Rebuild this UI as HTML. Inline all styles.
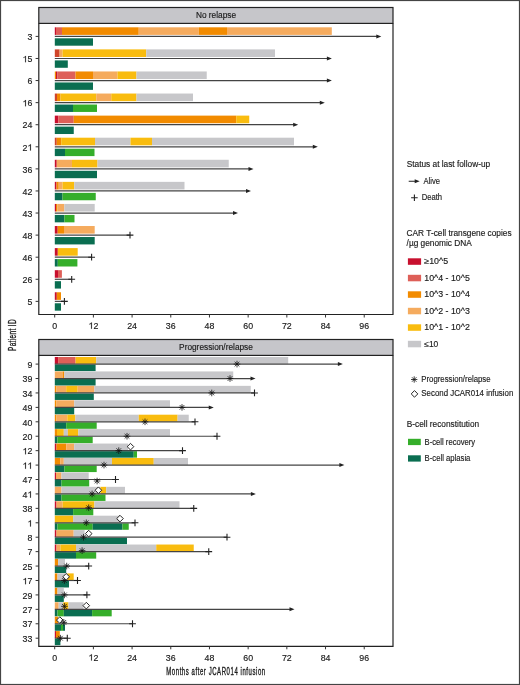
<!DOCTYPE html>
<html><head><meta charset="utf-8"><style>
html,body{margin:0;padding:0;background:#fff;}
svg{display:block;will-change:transform;}
text{font-family:"Liberation Sans",sans-serif;fill:#1a1a1a;stroke:#1a1a1a;stroke-width:0.15px;}
.t{font-size:8.8px;}
.h{font-size:8.3px;}
.lt{font-size:8.3px;}
.li{font-size:8.5px;}
.ax{font-size:10px;}
</style></head><body>
<svg width="520" height="685" viewBox="0 0 520 685">
<rect x="0.5" y="0.5" width="519" height="684" fill="#fff" stroke="#444" stroke-width="1.2"/>
<rect x="38.8" y="7.5" width="354.2" height="15.9" fill="#c6c6ca" stroke="#222" stroke-width="1.2"/>
<text x="216" y="18.1" text-anchor="middle" class="h">No relapse</text>
<path d="M38.8,23.4V314.5H393V23.4" stroke="#222" stroke-width="1.2" fill="none"/>
<line x1="54.7" y1="314.5" x2="54.7" y2="317.5" stroke="#333" stroke-width="1"/>
<text x="54.7" y="328.7" text-anchor="middle" class="t">0</text>
<line x1="93.39" y1="314.5" x2="93.39" y2="317.5" stroke="#333" stroke-width="1"/>
<path transform="translate(88.5,328.7) scale(8.8)" d="M0.383,0V-0.716H0.318C0.29,-0.655 0.2,-0.585 0.1,-0.55V-0.468C0.17,-0.49 0.25,-0.535 0.293,-0.575V0Z" fill="#1a1a1a" stroke="#1a1a1a" stroke-width="0.0170"/>
<text x="93.39" y="328.7" class="t">2</text>
<line x1="132.08" y1="314.5" x2="132.08" y2="317.5" stroke="#333" stroke-width="1"/>
<text x="132.08" y="328.7" text-anchor="middle" class="t">24</text>
<line x1="170.77" y1="314.5" x2="170.77" y2="317.5" stroke="#333" stroke-width="1"/>
<text x="170.77" y="328.7" text-anchor="middle" class="t">36</text>
<line x1="209.46" y1="314.5" x2="209.46" y2="317.5" stroke="#333" stroke-width="1"/>
<text x="209.46" y="328.7" text-anchor="middle" class="t">48</text>
<line x1="248.15" y1="314.5" x2="248.15" y2="317.5" stroke="#333" stroke-width="1"/>
<text x="248.15" y="328.7" text-anchor="middle" class="t">60</text>
<line x1="286.84" y1="314.5" x2="286.84" y2="317.5" stroke="#333" stroke-width="1"/>
<text x="286.84" y="328.7" text-anchor="middle" class="t">72</text>
<line x1="325.53" y1="314.5" x2="325.53" y2="317.5" stroke="#333" stroke-width="1"/>
<text x="325.53" y="328.7" text-anchor="middle" class="t">84</text>
<line x1="364.22" y1="314.5" x2="364.22" y2="317.5" stroke="#333" stroke-width="1"/>
<text x="364.22" y="328.7" text-anchor="middle" class="t">96</text>
<rect x="54.8" y="27.3" width="1.2" height="7.6" fill="#c8102e"/>
<rect x="56" y="27.3" width="6" height="7.6" fill="#de5f58"/>
<rect x="62" y="27.3" width="76.75" height="7.6" fill="#f28b00"/>
<rect x="138.75" y="27.3" width="60" height="7.6" fill="#f5ab5e"/>
<rect x="198.75" y="27.3" width="28.25" height="7.6" fill="#f28b00"/>
<rect x="227" y="27.3" width="104.8" height="7.6" fill="#f5ab5e"/>
<rect x="54.8" y="38.3" width="38.2" height="7.4" fill="#0a6e51"/>
<line x1="54.8" y1="36.4" x2="377.3" y2="36.4" stroke="#444444" stroke-width="1.2"/>
<path d="M381.3,36.4 L376.3,34.4 L376.3,38.4 Z" fill="#222"/>
<line x1="35.6" y1="36.4" x2="38.8" y2="36.4" stroke="#333" stroke-width="1"/>
<text x="32.4" y="40.1" text-anchor="end" class="t">3</text>
<rect x="54.8" y="49.38" width="4.8" height="7.6" fill="#d0452a"/>
<rect x="59.6" y="49.38" width="2.9" height="7.6" fill="#f5ab5e"/>
<rect x="62.5" y="49.38" width="83.75" height="7.6" fill="#f9bc0f"/>
<rect x="146.25" y="49.38" width="128.75" height="7.6" fill="#c7c7ca"/>
<rect x="54.8" y="60.38" width="13" height="7.4" fill="#0a6e51"/>
<line x1="54.8" y1="58.48" x2="327.9" y2="58.48" stroke="#444444" stroke-width="1.2"/>
<path d="M331.9,58.48 L326.9,56.48 L326.9,60.48 Z" fill="#222"/>
<line x1="35.6" y1="58.48" x2="38.8" y2="58.48" stroke="#333" stroke-width="1"/>
<path transform="translate(22.61,62.18) scale(8.8)" d="M0.383,0V-0.716H0.318C0.29,-0.655 0.2,-0.585 0.1,-0.55V-0.468C0.17,-0.49 0.25,-0.535 0.293,-0.575V0Z" fill="#1a1a1a" stroke="#1a1a1a" stroke-width="0.0170"/>
<text x="27.51" y="62.18" class="t">5</text>
<rect x="54.8" y="71.46" width="1.2" height="7.6" fill="#f28b00"/>
<rect x="56" y="71.46" width="1.2" height="7.6" fill="#c8102e"/>
<rect x="57.2" y="71.46" width="18.3" height="7.6" fill="#de5f58"/>
<rect x="75.5" y="71.46" width="17.5" height="7.6" fill="#f28b00"/>
<rect x="93" y="71.46" width="24.5" height="7.6" fill="#f5ab5e"/>
<rect x="117.5" y="71.46" width="19" height="7.6" fill="#f9bc0f"/>
<rect x="136.5" y="71.46" width="70.25" height="7.6" fill="#c7c7ca"/>
<rect x="54.8" y="82.46" width="38.2" height="7.4" fill="#0a6e51"/>
<line x1="54.8" y1="80.56" x2="327.9" y2="80.56" stroke="#444444" stroke-width="1.2"/>
<path d="M331.9,80.56 L326.9,78.56 L326.9,82.56 Z" fill="#222"/>
<line x1="35.6" y1="80.56" x2="38.8" y2="80.56" stroke="#333" stroke-width="1"/>
<text x="32.4" y="84.26" text-anchor="end" class="t">6</text>
<rect x="54.8" y="93.54" width="2.2" height="7.6" fill="#d0452a"/>
<rect x="57" y="93.54" width="3.5" height="7.6" fill="#f28b00"/>
<rect x="60.5" y="93.54" width="35.75" height="7.6" fill="#f9bc0f"/>
<rect x="96.25" y="93.54" width="15" height="7.6" fill="#f5ab5e"/>
<rect x="111.25" y="93.54" width="25.25" height="7.6" fill="#f9bc0f"/>
<rect x="136.5" y="93.54" width="56.5" height="7.6" fill="#c7c7ca"/>
<rect x="54.8" y="104.54" width="18.2" height="7.4" fill="#0a6e51"/>
<rect x="73" y="104.54" width="24" height="7.4" fill="#35ae2a"/>
<line x1="54.8" y1="102.64" x2="320.8" y2="102.64" stroke="#444444" stroke-width="1.2"/>
<path d="M324.8,102.64 L319.8,100.64 L319.8,104.64 Z" fill="#222"/>
<line x1="35.6" y1="102.64" x2="38.8" y2="102.64" stroke="#333" stroke-width="1"/>
<path transform="translate(22.61,106.34) scale(8.8)" d="M0.383,0V-0.716H0.318C0.29,-0.655 0.2,-0.585 0.1,-0.55V-0.468C0.17,-0.49 0.25,-0.535 0.293,-0.575V0Z" fill="#1a1a1a" stroke="#1a1a1a" stroke-width="0.0170"/>
<text x="27.51" y="106.34" class="t">6</text>
<rect x="54.8" y="115.62" width="3.45" height="7.6" fill="#c8102e"/>
<rect x="58.25" y="115.62" width="15.5" height="7.6" fill="#de5f58"/>
<rect x="73.75" y="115.62" width="162.5" height="7.6" fill="#f28b00"/>
<rect x="236.25" y="115.62" width="13" height="7.6" fill="#f9bc0f"/>
<rect x="54.8" y="126.62" width="18.95" height="7.4" fill="#0a6e51"/>
<line x1="54.8" y1="124.72" x2="294.2" y2="124.72" stroke="#444444" stroke-width="1.2"/>
<path d="M298.2,124.72 L293.2,122.72 L293.2,126.72 Z" fill="#222"/>
<line x1="35.6" y1="124.72" x2="38.8" y2="124.72" stroke="#333" stroke-width="1"/>
<text x="32.4" y="128.42" text-anchor="end" class="t">24</text>
<rect x="54.8" y="137.7" width="1.95" height="7.6" fill="#d0452a"/>
<rect x="56.75" y="137.7" width="4.5" height="7.6" fill="#f28b00"/>
<rect x="61.25" y="137.7" width="33.75" height="7.6" fill="#f9bc0f"/>
<rect x="95" y="137.7" width="35.5" height="7.6" fill="#c7c7ca"/>
<rect x="130.5" y="137.7" width="21.5" height="7.6" fill="#f9bc0f"/>
<rect x="152" y="137.7" width="142" height="7.6" fill="#c7c7ca"/>
<rect x="54.8" y="148.7" width="10.2" height="7.4" fill="#0a6e51"/>
<rect x="65" y="148.7" width="29.5" height="7.4" fill="#35ae2a"/>
<line x1="54.8" y1="146.8" x2="313.8" y2="146.8" stroke="#444444" stroke-width="1.2"/>
<path d="M317.8,146.8 L312.8,144.8 L312.8,148.8 Z" fill="#222"/>
<line x1="35.6" y1="146.8" x2="38.8" y2="146.8" stroke="#333" stroke-width="1"/>
<text x="22.61" y="150.5" class="t">2</text>
<path transform="translate(27.51,150.5) scale(8.8)" d="M0.383,0V-0.716H0.318C0.29,-0.655 0.2,-0.585 0.1,-0.55V-0.468C0.17,-0.49 0.25,-0.535 0.293,-0.575V0Z" fill="#1a1a1a" stroke="#1a1a1a" stroke-width="0.0170"/>
<rect x="54.8" y="159.78" width="1.95" height="7.6" fill="#c8102e"/>
<rect x="56.75" y="159.78" width="15.25" height="7.6" fill="#f5ab5e"/>
<rect x="72" y="159.78" width="25.5" height="7.6" fill="#f9bc0f"/>
<rect x="97.5" y="159.78" width="131.25" height="7.6" fill="#c7c7ca"/>
<rect x="54.8" y="170.78" width="42.2" height="7.4" fill="#0a6e51"/>
<line x1="54.8" y1="168.88" x2="249.5" y2="168.88" stroke="#444444" stroke-width="1.2"/>
<path d="M253.5,168.88 L248.5,166.88 L248.5,170.88 Z" fill="#222"/>
<line x1="35.6" y1="168.88" x2="38.8" y2="168.88" stroke="#333" stroke-width="1"/>
<text x="32.4" y="172.58" text-anchor="end" class="t">36</text>
<rect x="54.8" y="181.86" width="1.7" height="7.6" fill="#c8102e"/>
<rect x="56.5" y="181.86" width="2.25" height="7.6" fill="#f28b00"/>
<rect x="58.75" y="181.86" width="3.75" height="7.6" fill="#f5ab5e"/>
<rect x="62.5" y="181.86" width="11.75" height="7.6" fill="#f9bc0f"/>
<rect x="74.25" y="181.86" width="110.25" height="7.6" fill="#c7c7ca"/>
<rect x="54.8" y="192.86" width="7.7" height="7.4" fill="#0a6e51"/>
<rect x="62.5" y="192.86" width="33.25" height="7.4" fill="#35ae2a"/>
<line x1="54.8" y1="190.96" x2="247" y2="190.96" stroke="#444444" stroke-width="1.2"/>
<path d="M251,190.96 L246,188.96 L246,192.96 Z" fill="#222"/>
<line x1="35.6" y1="190.96" x2="38.8" y2="190.96" stroke="#333" stroke-width="1"/>
<text x="32.4" y="194.66" text-anchor="end" class="t">42</text>
<rect x="54.8" y="203.94" width="1.2" height="7.6" fill="#c8102e"/>
<rect x="56" y="203.94" width="1.2" height="7.6" fill="#f28b00"/>
<rect x="57.2" y="203.94" width="7.2" height="7.6" fill="#f5ab5e"/>
<rect x="64.4" y="203.94" width="30.3" height="7.6" fill="#c7c7ca"/>
<rect x="54.8" y="214.94" width="9.6" height="7.4" fill="#0a6e51"/>
<rect x="64.4" y="214.94" width="10.1" height="7.4" fill="#35ae2a"/>
<line x1="54.8" y1="213.04" x2="234" y2="213.04" stroke="#444444" stroke-width="1.2"/>
<path d="M238,213.04 L233,211.04 L233,215.04 Z" fill="#222"/>
<line x1="35.6" y1="213.04" x2="38.8" y2="213.04" stroke="#333" stroke-width="1"/>
<text x="32.4" y="216.74" text-anchor="end" class="t">43</text>
<rect x="54.8" y="226.02" width="2.9" height="7.6" fill="#c8102e"/>
<rect x="57.7" y="226.02" width="6.3" height="7.6" fill="#f28b00"/>
<rect x="64" y="226.02" width="30.7" height="7.6" fill="#f5ab5e"/>
<rect x="54.8" y="237.02" width="39.9" height="7.4" fill="#0a6e51"/>
<line x1="54.8" y1="235.12" x2="130" y2="235.12" stroke="#444444" stroke-width="1.2"/>
<path d="M126.6,235.12H133.4M130,231.72V238.52" stroke="#222" stroke-width="1.1" fill="none"/>
<line x1="35.6" y1="235.12" x2="38.8" y2="235.12" stroke="#333" stroke-width="1"/>
<text x="32.4" y="238.82" text-anchor="end" class="t">48</text>
<rect x="54.8" y="248.1" width="3" height="7.6" fill="#c8102e"/>
<rect x="57.8" y="248.1" width="19.9" height="7.6" fill="#f9bc0f"/>
<rect x="54.8" y="259.1" width="3" height="7.4" fill="#0a6e51"/>
<rect x="57.8" y="259.1" width="19.6" height="7.4" fill="#35ae2a"/>
<line x1="54.8" y1="257.2" x2="91.6" y2="257.2" stroke="#444444" stroke-width="1.2"/>
<path d="M88.2,257.2H95M91.6,253.8V260.6" stroke="#222" stroke-width="1.1" fill="none"/>
<line x1="35.6" y1="257.2" x2="38.8" y2="257.2" stroke="#333" stroke-width="1"/>
<text x="32.4" y="260.9" text-anchor="end" class="t">46</text>
<rect x="54.8" y="270.18" width="3.2" height="7.6" fill="#c8102e"/>
<rect x="58" y="270.18" width="3.9" height="7.6" fill="#de5f58"/>
<rect x="54.8" y="281.18" width="6.2" height="7.4" fill="#0a6e51"/>
<line x1="54.8" y1="279.28" x2="71.7" y2="279.28" stroke="#444444" stroke-width="1.2"/>
<path d="M68.3,279.28H75.1M71.7,275.88V282.68" stroke="#222" stroke-width="1.1" fill="none"/>
<line x1="35.6" y1="279.28" x2="38.8" y2="279.28" stroke="#333" stroke-width="1"/>
<text x="32.4" y="282.98" text-anchor="end" class="t">26</text>
<rect x="54.8" y="292.26" width="2" height="7.6" fill="#c8102e"/>
<rect x="56.8" y="292.26" width="4.2" height="7.6" fill="#f28b00"/>
<rect x="54.8" y="303.26" width="6.2" height="7.4" fill="#0a6e51"/>
<line x1="54.8" y1="301.36" x2="64.4" y2="301.36" stroke="#444444" stroke-width="1.2"/>
<path d="M61,301.36H67.8M64.4,297.96V304.76" stroke="#222" stroke-width="1.1" fill="none"/>
<line x1="35.6" y1="301.36" x2="38.8" y2="301.36" stroke="#333" stroke-width="1"/>
<text x="32.4" y="305.06" text-anchor="end" class="t">5</text>
<rect x="38.8" y="339.5" width="354.2" height="15.9" fill="#c6c6ca" stroke="#222" stroke-width="1.2"/>
<text x="216" y="350.1" text-anchor="middle" class="h">Progression/relapse</text>
<path d="M38.8,355.4V646.3H393V355.4" stroke="#222" stroke-width="1.2" fill="none"/>
<line x1="54.7" y1="646.3" x2="54.7" y2="649.3" stroke="#333" stroke-width="1"/>
<text x="54.7" y="660.5" text-anchor="middle" class="t">0</text>
<line x1="93.39" y1="646.3" x2="93.39" y2="649.3" stroke="#333" stroke-width="1"/>
<path transform="translate(88.5,660.5) scale(8.8)" d="M0.383,0V-0.716H0.318C0.29,-0.655 0.2,-0.585 0.1,-0.55V-0.468C0.17,-0.49 0.25,-0.535 0.293,-0.575V0Z" fill="#1a1a1a" stroke="#1a1a1a" stroke-width="0.0170"/>
<text x="93.39" y="660.5" class="t">2</text>
<line x1="132.08" y1="646.3" x2="132.08" y2="649.3" stroke="#333" stroke-width="1"/>
<text x="132.08" y="660.5" text-anchor="middle" class="t">24</text>
<line x1="170.77" y1="646.3" x2="170.77" y2="649.3" stroke="#333" stroke-width="1"/>
<text x="170.77" y="660.5" text-anchor="middle" class="t">36</text>
<line x1="209.46" y1="646.3" x2="209.46" y2="649.3" stroke="#333" stroke-width="1"/>
<text x="209.46" y="660.5" text-anchor="middle" class="t">48</text>
<line x1="248.15" y1="646.3" x2="248.15" y2="649.3" stroke="#333" stroke-width="1"/>
<text x="248.15" y="660.5" text-anchor="middle" class="t">60</text>
<line x1="286.84" y1="646.3" x2="286.84" y2="649.3" stroke="#333" stroke-width="1"/>
<text x="286.84" y="660.5" text-anchor="middle" class="t">72</text>
<line x1="325.53" y1="646.3" x2="325.53" y2="649.3" stroke="#333" stroke-width="1"/>
<text x="325.53" y="660.5" text-anchor="middle" class="t">84</text>
<line x1="364.22" y1="646.3" x2="364.22" y2="649.3" stroke="#333" stroke-width="1"/>
<text x="364.22" y="660.5" text-anchor="middle" class="t">96</text>
<rect x="54.8" y="357" width="3.3" height="6.9" fill="#c8102e"/>
<rect x="58.1" y="357" width="17.5" height="6.9" fill="#de5f58"/>
<rect x="75.6" y="357" width="20.6" height="6.9" fill="#f9bc0f"/>
<rect x="96.2" y="357" width="192" height="6.9" fill="#c7c7ca"/>
<rect x="54.8" y="364.6" width="40.8" height="6.5" fill="#0a6e51"/>
<line x1="54.8" y1="364.1" x2="338.9" y2="364.1" stroke="#444444" stroke-width="1.2"/>
<path d="M342.9,364.1 L337.9,362.1 L337.9,366.1 Z" fill="#222"/>
<path d="M233.7,364.1H240.3M237,360.8V367.4M234.67,361.77L239.33,366.43M234.67,366.43L239.33,361.77" stroke="#111" stroke-width="0.8" fill="none"/>
<line x1="35.6" y1="364.1" x2="38.8" y2="364.1" stroke="#333" stroke-width="1"/>
<text x="32.4" y="367.8" text-anchor="end" class="t">9</text>
<rect x="54.8" y="371.43" width="7.7" height="6.9" fill="#f5ab5e"/>
<rect x="62.5" y="371.43" width="1.8" height="6.9" fill="#f28b00"/>
<rect x="64.3" y="371.43" width="168.95" height="6.9" fill="#c7c7ca"/>
<rect x="54.8" y="379.03" width="40.8" height="6.5" fill="#0a6e51"/>
<line x1="54.8" y1="378.53" x2="251.5" y2="378.53" stroke="#444444" stroke-width="1.2"/>
<path d="M255.5,378.53 L250.5,376.53 L250.5,380.53 Z" fill="#222"/>
<path d="M226.7,378.53H233.3M230,375.23V381.83M227.67,376.19L232.33,380.86M227.67,380.86L232.33,376.19" stroke="#111" stroke-width="0.8" fill="none"/>
<line x1="35.6" y1="378.53" x2="38.8" y2="378.53" stroke="#333" stroke-width="1"/>
<text x="32.4" y="382.23" text-anchor="end" class="t">39</text>
<rect x="54.8" y="385.85" width="1.7" height="6.9" fill="#f28b00"/>
<rect x="56.5" y="385.85" width="9.7" height="6.9" fill="#f5ab5e"/>
<rect x="66.2" y="385.85" width="11.5" height="6.9" fill="#f9bc0f"/>
<rect x="77.7" y="385.85" width="16.7" height="6.9" fill="#f5ab5e"/>
<rect x="94.4" y="385.85" width="156.35" height="6.9" fill="#c7c7ca"/>
<rect x="54.8" y="393.45" width="39" height="6.5" fill="#0a6e51"/>
<line x1="54.8" y1="392.95" x2="254.5" y2="392.95" stroke="#444444" stroke-width="1.2"/>
<path d="M251.1,392.95H257.9M254.5,389.55V396.35" stroke="#222" stroke-width="1.1" fill="none"/>
<path d="M208.45,392.95H215.05M211.75,389.65V396.25M209.42,390.62L214.08,395.29M209.42,395.29L214.08,390.62" stroke="#111" stroke-width="0.8" fill="none"/>
<line x1="35.6" y1="392.95" x2="38.8" y2="392.95" stroke="#333" stroke-width="1"/>
<text x="32.4" y="396.65" text-anchor="end" class="t">34</text>
<rect x="54.8" y="400.28" width="1.7" height="6.9" fill="#f28b00"/>
<rect x="56.5" y="400.28" width="17.7" height="6.9" fill="#f5ab5e"/>
<rect x="74.2" y="400.28" width="95.8" height="6.9" fill="#c7c7ca"/>
<rect x="54.8" y="407.88" width="19.4" height="6.5" fill="#0a6e51"/>
<line x1="54.8" y1="407.38" x2="209.75" y2="407.38" stroke="#444444" stroke-width="1.2"/>
<path d="M213.75,407.38 L208.75,405.38 L208.75,409.38 Z" fill="#222"/>
<path d="M178.7,407.38H185.3M182,404.08V410.68M179.67,405.04L184.33,409.71M179.67,409.71L184.33,405.04" stroke="#111" stroke-width="0.8" fill="none"/>
<line x1="35.6" y1="407.38" x2="38.8" y2="407.38" stroke="#333" stroke-width="1"/>
<text x="32.4" y="411.08" text-anchor="end" class="t">49</text>
<rect x="54.8" y="414.7" width="1.7" height="6.9" fill="#f28b00"/>
<rect x="56.5" y="414.7" width="10.8" height="6.9" fill="#f5ab5e"/>
<rect x="67.3" y="414.7" width="8.1" height="6.9" fill="#f9bc0f"/>
<rect x="75.4" y="414.7" width="63.35" height="6.9" fill="#c7c7ca"/>
<rect x="138.75" y="414.7" width="38.85" height="6.9" fill="#f9bc0f"/>
<rect x="177.6" y="414.7" width="11.15" height="6.9" fill="#c7c7ca"/>
<rect x="54.8" y="422.3" width="11.4" height="6.5" fill="#0a6e51"/>
<rect x="66.2" y="422.3" width="30.5" height="6.5" fill="#35ae2a"/>
<line x1="54.8" y1="421.8" x2="195" y2="421.8" stroke="#444444" stroke-width="1.2"/>
<path d="M191.6,421.8H198.4M195,418.4V425.2" stroke="#222" stroke-width="1.1" fill="none"/>
<path d="M141.7,421.8H148.3M145,418.5V425.1M142.67,419.47L147.33,424.14M142.67,424.14L147.33,419.47" stroke="#111" stroke-width="0.8" fill="none"/>
<line x1="35.6" y1="421.8" x2="38.8" y2="421.8" stroke="#333" stroke-width="1"/>
<text x="32.4" y="425.5" text-anchor="end" class="t">40</text>
<rect x="54.8" y="429.13" width="2.2" height="6.9" fill="#f28b00"/>
<rect x="57" y="429.13" width="6.8" height="6.9" fill="#f9bc0f"/>
<rect x="63.8" y="429.13" width="4.1" height="6.9" fill="#c7c7ca"/>
<rect x="67.9" y="429.13" width="10.4" height="6.9" fill="#f9bc0f"/>
<rect x="78.3" y="429.13" width="91.7" height="6.9" fill="#c7c7ca"/>
<rect x="54.8" y="436.73" width="2.7" height="6.5" fill="#0a6e51"/>
<rect x="57.5" y="436.73" width="35.2" height="6.5" fill="#35ae2a"/>
<line x1="54.8" y1="436.23" x2="217" y2="436.23" stroke="#444444" stroke-width="1.2"/>
<path d="M213.6,436.23H220.4M217,432.83V439.63" stroke="#222" stroke-width="1.1" fill="none"/>
<path d="M123.7,436.23H130.3M127,432.93V439.53M124.67,433.9L129.33,438.56M124.67,438.56L129.33,433.9" stroke="#111" stroke-width="0.8" fill="none"/>
<line x1="35.6" y1="436.23" x2="38.8" y2="436.23" stroke="#333" stroke-width="1"/>
<text x="32.4" y="439.93" text-anchor="end" class="t">20</text>
<rect x="54.8" y="443.56" width="1.7" height="6.9" fill="#c8102e"/>
<rect x="56.5" y="443.56" width="9.7" height="6.9" fill="#f28b00"/>
<rect x="66.2" y="443.56" width="8" height="6.9" fill="#f5ab5e"/>
<rect x="74.2" y="443.56" width="53.8" height="6.9" fill="#c7c7ca"/>
<rect x="54.8" y="451.16" width="78.95" height="6.5" fill="#0a6e51"/>
<rect x="133.75" y="451.16" width="3.25" height="6.5" fill="#35ae2a"/>
<line x1="54.8" y1="450.66" x2="182.5" y2="450.66" stroke="#444444" stroke-width="1.2"/>
<path d="M179.1,450.66H185.9M182.5,447.26V454.06" stroke="#222" stroke-width="1.1" fill="none"/>
<path d="M115.45,450.66H122.05M118.75,447.36V453.96M116.42,448.32L121.08,452.99M116.42,452.99L121.08,448.32" stroke="#111" stroke-width="0.8" fill="none"/>
<path d="M130.5,443.36L133.8,446.66L130.5,449.96L127.2,446.66Z" stroke="#222" stroke-width="1.0" fill="#fff"/>
<line x1="35.6" y1="450.66" x2="38.8" y2="450.66" stroke="#333" stroke-width="1"/>
<path transform="translate(22.61,454.36) scale(8.8)" d="M0.383,0V-0.716H0.318C0.29,-0.655 0.2,-0.585 0.1,-0.55V-0.468C0.17,-0.49 0.25,-0.535 0.293,-0.575V0Z" fill="#1a1a1a" stroke="#1a1a1a" stroke-width="0.0170"/>
<text x="27.51" y="454.36" class="t">2</text>
<rect x="54.8" y="457.98" width="5.6" height="6.9" fill="#f28b00"/>
<rect x="60.4" y="457.98" width="3.4" height="6.9" fill="#f5ab5e"/>
<rect x="63.8" y="457.98" width="48.2" height="6.9" fill="#c7c7ca"/>
<rect x="112" y="457.98" width="41.75" height="6.9" fill="#f9bc0f"/>
<rect x="153.75" y="457.98" width="34.25" height="6.9" fill="#c7c7ca"/>
<rect x="54.8" y="465.58" width="9.6" height="6.5" fill="#0a6e51"/>
<rect x="64.4" y="465.58" width="32.3" height="6.5" fill="#35ae2a"/>
<line x1="54.8" y1="465.08" x2="340.4" y2="465.08" stroke="#444444" stroke-width="1.2"/>
<path d="M344.4,465.08 L339.4,463.08 L339.4,467.08 Z" fill="#222"/>
<path d="M100.7,465.08H107.3M104,461.78V468.38M101.67,462.75L106.33,467.42M101.67,467.42L106.33,462.75" stroke="#111" stroke-width="0.8" fill="none"/>
<line x1="35.6" y1="465.08" x2="38.8" y2="465.08" stroke="#333" stroke-width="1"/>
<path transform="translate(22.61,468.78) scale(8.8)" d="M0.383,0V-0.716H0.318C0.29,-0.655 0.2,-0.585 0.1,-0.55V-0.468C0.17,-0.49 0.25,-0.535 0.293,-0.575V0Z" fill="#1a1a1a" stroke="#1a1a1a" stroke-width="0.0170"/>
<path transform="translate(27.51,468.78) scale(8.8)" d="M0.383,0V-0.716H0.318C0.29,-0.655 0.2,-0.585 0.1,-0.55V-0.468C0.17,-0.49 0.25,-0.535 0.293,-0.575V0Z" fill="#1a1a1a" stroke="#1a1a1a" stroke-width="0.0170"/>
<rect x="54.8" y="472.41" width="1.2" height="6.9" fill="#c8102e"/>
<rect x="56" y="472.41" width="5.5" height="6.9" fill="#f5ab5e"/>
<rect x="61.5" y="472.41" width="27.2" height="6.9" fill="#c7c7ca"/>
<rect x="54.8" y="480.01" width="6.7" height="6.5" fill="#0a6e51"/>
<rect x="61.5" y="480.01" width="27.7" height="6.5" fill="#35ae2a"/>
<line x1="54.8" y1="479.51" x2="115.5" y2="479.51" stroke="#444444" stroke-width="1.2"/>
<path d="M112.1,479.51H118.9M115.5,476.11V482.91" stroke="#222" stroke-width="1.1" fill="none"/>
<path d="M93.8,481.01H100.4M97.1,477.71V484.31M94.77,478.67L99.43,483.34M94.77,483.34L99.43,478.67" stroke="#111" stroke-width="0.8" fill="none"/>
<line x1="35.6" y1="479.51" x2="38.8" y2="479.51" stroke="#333" stroke-width="1"/>
<text x="32.4" y="483.21" text-anchor="end" class="t">47</text>
<rect x="54.8" y="486.83" width="6.7" height="6.9" fill="#f5ab5e"/>
<rect x="61.5" y="486.83" width="39" height="6.9" fill="#c7c7ca"/>
<rect x="100.5" y="486.83" width="5.75" height="6.9" fill="#f9bc0f"/>
<rect x="106.25" y="486.83" width="18.75" height="6.9" fill="#c7c7ca"/>
<rect x="54.8" y="494.43" width="6.7" height="6.5" fill="#0a6e51"/>
<rect x="61.5" y="494.43" width="44" height="6.5" fill="#35ae2a"/>
<line x1="54.8" y1="493.93" x2="251.9" y2="493.93" stroke="#444444" stroke-width="1.2"/>
<path d="M255.9,493.93 L250.9,491.93 L250.9,495.93 Z" fill="#222"/>
<path d="M88.8,493.93H95.4M92.1,490.63V497.23M89.77,491.6L94.43,496.27M89.77,496.27L94.43,491.6" stroke="#111" stroke-width="0.8" fill="none"/>
<path d="M98.4,486.93L101.7,490.23L98.4,493.53L95.1,490.23Z" stroke="#222" stroke-width="1.0" fill="#fff"/>
<line x1="35.6" y1="493.93" x2="38.8" y2="493.93" stroke="#333" stroke-width="1"/>
<text x="22.61" y="497.63" class="t">4</text>
<path transform="translate(27.51,497.63) scale(8.8)" d="M0.383,0V-0.716H0.318C0.29,-0.655 0.2,-0.585 0.1,-0.55V-0.468C0.17,-0.49 0.25,-0.535 0.293,-0.575V0Z" fill="#1a1a1a" stroke="#1a1a1a" stroke-width="0.0170"/>
<rect x="54.8" y="501.26" width="1.7" height="6.9" fill="#c8102e"/>
<rect x="56.5" y="501.26" width="6.2" height="6.9" fill="#f5ab5e"/>
<rect x="62.7" y="501.26" width="31.7" height="6.9" fill="#f9bc0f"/>
<rect x="94.4" y="501.26" width="85.1" height="6.9" fill="#c7c7ca"/>
<rect x="54.8" y="508.86" width="18.3" height="6.5" fill="#0a6e51"/>
<rect x="73.1" y="508.86" width="20.2" height="6.5" fill="#35ae2a"/>
<line x1="54.8" y1="508.36" x2="193.75" y2="508.36" stroke="#444444" stroke-width="1.2"/>
<path d="M190.35,508.36H197.15M193.75,504.96V511.76" stroke="#222" stroke-width="1.1" fill="none"/>
<path d="M85.4,507.76H92M88.7,504.46V511.06M86.37,505.43L91.03,510.09M86.37,510.09L91.03,505.43" stroke="#111" stroke-width="0.8" fill="none"/>
<line x1="35.6" y1="508.36" x2="38.8" y2="508.36" stroke="#333" stroke-width="1"/>
<text x="32.4" y="512.06" text-anchor="end" class="t">38</text>
<rect x="54.8" y="515.69" width="18.3" height="6.9" fill="#f9bc0f"/>
<rect x="73.1" y="515.69" width="46.9" height="6.9" fill="#c7c7ca"/>
<rect x="54.8" y="523.29" width="2.7" height="6.5" fill="#0a6e51"/>
<rect x="57.5" y="523.29" width="35.2" height="6.5" fill="#35ae2a"/>
<rect x="92.7" y="523.29" width="29.8" height="6.5" fill="#0a6e51"/>
<rect x="122.5" y="523.29" width="6.25" height="6.5" fill="#35ae2a"/>
<line x1="54.8" y1="522.79" x2="135" y2="522.79" stroke="#444444" stroke-width="1.2"/>
<path d="M131.6,522.79H138.4M135,519.39V526.19" stroke="#222" stroke-width="1.1" fill="none"/>
<path d="M83,522.79H89.6M86.3,519.49V526.09M83.97,520.45L88.63,525.12M83.97,525.12L88.63,520.45" stroke="#111" stroke-width="0.8" fill="none"/>
<path d="M120,515.29L123.3,518.59L120,521.89L116.7,518.59Z" stroke="#222" stroke-width="1.0" fill="#fff"/>
<line x1="35.6" y1="522.79" x2="38.8" y2="522.79" stroke="#333" stroke-width="1"/>
<path transform="translate(27.51,526.49) scale(8.8)" d="M0.383,0V-0.716H0.318C0.29,-0.655 0.2,-0.585 0.1,-0.55V-0.468C0.17,-0.49 0.25,-0.535 0.293,-0.575V0Z" fill="#1a1a1a" stroke="#1a1a1a" stroke-width="0.0170"/>
<rect x="54.8" y="530.11" width="1.7" height="6.9" fill="#c8102e"/>
<rect x="56.5" y="530.11" width="17.2" height="6.9" fill="#f5ab5e"/>
<rect x="73.7" y="530.11" width="10.9" height="6.9" fill="#c7c7ca"/>
<rect x="54.8" y="537.71" width="72.2" height="6.5" fill="#0a6e51"/>
<line x1="54.8" y1="537.21" x2="227" y2="537.21" stroke="#444444" stroke-width="1.2"/>
<path d="M223.6,537.21H230.4M227,533.81V540.61" stroke="#222" stroke-width="1.1" fill="none"/>
<path d="M80.2,537.21H86.8M83.5,533.91V540.51M81.17,534.88L85.83,539.55M81.17,539.55L85.83,534.88" stroke="#111" stroke-width="0.8" fill="none"/>
<path d="M88.7,530.31L92,533.61L88.7,536.91L85.4,533.61Z" stroke="#222" stroke-width="1.0" fill="#fff"/>
<line x1="35.6" y1="537.21" x2="38.8" y2="537.21" stroke="#333" stroke-width="1"/>
<text x="32.4" y="540.91" text-anchor="end" class="t">8</text>
<rect x="54.8" y="544.54" width="1.7" height="6.9" fill="#c8102e"/>
<rect x="56.5" y="544.54" width="3.9" height="6.9" fill="#f5ab5e"/>
<rect x="60.4" y="544.54" width="15.6" height="6.9" fill="#f9bc0f"/>
<rect x="76" y="544.54" width="80.25" height="6.9" fill="#c7c7ca"/>
<rect x="156.25" y="544.54" width="37.5" height="6.9" fill="#f9bc0f"/>
<rect x="54.8" y="552.14" width="21.2" height="6.5" fill="#0a6e51"/>
<rect x="76" y="552.14" width="20.2" height="6.5" fill="#35ae2a"/>
<line x1="54.8" y1="551.64" x2="208.75" y2="551.64" stroke="#444444" stroke-width="1.2"/>
<path d="M205.35,551.64H212.15M208.75,548.24V555.04" stroke="#222" stroke-width="1.1" fill="none"/>
<path d="M78.8,550.64H85.4M82.1,547.34V553.94M79.77,548.3L84.43,552.97M79.77,552.97L84.43,548.3" stroke="#111" stroke-width="0.8" fill="none"/>
<line x1="35.6" y1="551.64" x2="38.8" y2="551.64" stroke="#333" stroke-width="1"/>
<text x="32.4" y="555.34" text-anchor="end" class="t">7</text>
<rect x="54.8" y="558.96" width="3.3" height="6.9" fill="#f28b00"/>
<rect x="58.1" y="558.96" width="6.9" height="6.9" fill="#c7c7ca"/>
<rect x="54.8" y="566.56" width="11.4" height="6.5" fill="#0a6e51"/>
<line x1="54.8" y1="566.06" x2="88.7" y2="566.06" stroke="#444444" stroke-width="1.2"/>
<path d="M85.3,566.06H92.1M88.7,562.66V569.46" stroke="#222" stroke-width="1.1" fill="none"/>
<path d="M63.4,566.06H70M66.7,562.76V569.36M64.37,563.73L69.03,568.4M64.37,568.4L69.03,563.73" stroke="#111" stroke-width="0.8" fill="none"/>
<line x1="35.6" y1="566.06" x2="38.8" y2="566.06" stroke="#333" stroke-width="1"/>
<text x="32.4" y="569.76" text-anchor="end" class="t">25</text>
<rect x="54.8" y="573.39" width="2.7" height="6.9" fill="#f28b00"/>
<rect x="57.5" y="573.39" width="9.8" height="6.9" fill="#c7c7ca"/>
<rect x="67.3" y="573.39" width="6.4" height="6.9" fill="#f9bc0f"/>
<rect x="54.8" y="580.99" width="14.2" height="6.5" fill="#0a6e51"/>
<line x1="54.8" y1="580.49" x2="77.5" y2="580.49" stroke="#444444" stroke-width="1.2"/>
<path d="M74.1,580.49H80.9M77.5,577.09V583.89" stroke="#222" stroke-width="1.1" fill="none"/>
<path d="M61.1,580.49H67.7M64.4,577.19V583.79M62.07,578.16L66.73,582.82M62.07,582.82L66.73,578.16" stroke="#111" stroke-width="0.8" fill="none"/>
<path d="M66.2,573.49L69.5,576.79L66.2,580.09L62.9,576.79Z" stroke="#222" stroke-width="1.0" fill="#fff"/>
<line x1="35.6" y1="580.49" x2="38.8" y2="580.49" stroke="#333" stroke-width="1"/>
<path transform="translate(22.61,584.19) scale(8.8)" d="M0.383,0V-0.716H0.318C0.29,-0.655 0.2,-0.585 0.1,-0.55V-0.468C0.17,-0.49 0.25,-0.535 0.293,-0.575V0Z" fill="#1a1a1a" stroke="#1a1a1a" stroke-width="0.0170"/>
<text x="27.51" y="584.19" class="t">7</text>
<rect x="54.8" y="587.82" width="2.7" height="6.9" fill="#f28b00"/>
<rect x="57.5" y="587.82" width="6.3" height="6.9" fill="#c7c7ca"/>
<rect x="54.8" y="595.42" width="9" height="6.5" fill="#0a6e51"/>
<line x1="54.8" y1="594.92" x2="86.9" y2="594.92" stroke="#444444" stroke-width="1.2"/>
<path d="M83.5,594.92H90.3M86.9,591.52V598.32" stroke="#222" stroke-width="1.1" fill="none"/>
<path d="M61.1,594.92H67.7M64.4,591.62V598.22M62.07,592.58L66.73,597.25M62.07,597.25L66.73,592.58" stroke="#111" stroke-width="0.8" fill="none"/>
<line x1="35.6" y1="594.92" x2="38.8" y2="594.92" stroke="#333" stroke-width="1"/>
<text x="32.4" y="598.62" text-anchor="end" class="t">29</text>
<rect x="54.8" y="602.24" width="3.9" height="6.9" fill="#f5ab5e"/>
<rect x="58.7" y="602.24" width="4.6" height="6.9" fill="#c7c7ca"/>
<rect x="63.3" y="602.24" width="5.2" height="6.9" fill="#f9bc0f"/>
<rect x="68.5" y="602.24" width="15" height="6.9" fill="#c7c7ca"/>
<rect x="54.8" y="609.84" width="2.7" height="6.5" fill="#0a6e51"/>
<rect x="57.5" y="609.84" width="6.3" height="6.5" fill="#35ae2a"/>
<rect x="63.8" y="609.84" width="28.3" height="6.5" fill="#0a6e51"/>
<rect x="92.1" y="609.84" width="19.6" height="6.5" fill="#35ae2a"/>
<line x1="54.8" y1="609.34" x2="290.5" y2="609.34" stroke="#444444" stroke-width="1.2"/>
<path d="M294.5,609.34 L289.5,607.34 L289.5,611.34 Z" fill="#222"/>
<path d="M61.1,606.34H67.7M64.4,603.04V609.64M62.07,604.01L66.73,608.68M62.07,608.68L66.73,604.01" stroke="#111" stroke-width="0.8" fill="none"/>
<path d="M86.3,602.34L89.6,605.64L86.3,608.94L83,605.64Z" stroke="#222" stroke-width="1.0" fill="#fff"/>
<line x1="35.6" y1="609.34" x2="38.8" y2="609.34" stroke="#333" stroke-width="1"/>
<text x="32.4" y="613.04" text-anchor="end" class="t">27</text>
<rect x="54.8" y="616.67" width="3.3" height="6.9" fill="#f28b00"/>
<rect x="54.8" y="624.27" width="6.2" height="6.5" fill="#0a6e51"/>
<rect x="61" y="624.27" width="2" height="6.5" fill="#35ae2a"/>
<rect x="63" y="624.27" width="2" height="6.5" fill="#0a6e51"/>
<line x1="54.8" y1="623.77" x2="132.5" y2="623.77" stroke="#444444" stroke-width="1.2"/>
<path d="M129.1,623.77H135.9M132.5,620.37V627.17" stroke="#222" stroke-width="1.1" fill="none"/>
<path d="M59.8,616.77L63.1,620.07L59.8,623.37L56.5,620.07Z" stroke="#222" stroke-width="1.0" fill="#fff"/>
<path d="M60.5,622.37H67.1M63.8,619.07V625.67M61.47,620.03L66.13,624.7M61.47,624.7L66.13,620.03" stroke="#111" stroke-width="0.8" fill="none"/>
<line x1="35.6" y1="623.77" x2="38.8" y2="623.77" stroke="#333" stroke-width="1"/>
<text x="32.4" y="627.47" text-anchor="end" class="t">37</text>
<rect x="54.8" y="631.09" width="1.2" height="6.9" fill="#c8102e"/>
<rect x="56" y="631.09" width="3.8" height="6.9" fill="#f28b00"/>
<rect x="54.8" y="638.69" width="5.6" height="6.5" fill="#0a6e51"/>
<line x1="54.8" y1="638.19" x2="67.3" y2="638.19" stroke="#444444" stroke-width="1.2"/>
<path d="M63.9,638.19H70.7M67.3,634.79V641.59" stroke="#222" stroke-width="1.1" fill="none"/>
<path d="M57.1,638.19H63.7M60.4,634.89V641.49M58.07,635.86L62.73,640.53M58.07,640.53L62.73,635.86" stroke="#111" stroke-width="0.8" fill="none"/>
<line x1="35.6" y1="638.19" x2="38.8" y2="638.19" stroke="#333" stroke-width="1"/>
<text x="32.4" y="641.89" text-anchor="end" class="t">33</text>
<text transform="translate(216,674.8) scale(0.6,1)" text-anchor="middle" font-size="10" letter-spacing="0.95" style="stroke-width:0.35px">Months after JCAR014 infusion</text>
<text transform="translate(15.9,335) rotate(-90) scale(0.62,1)" text-anchor="middle" font-size="10.4" letter-spacing="0.6" style="stroke-width:0.35px">Patient ID</text>
<text x="406.7" y="166.6" class="lt">Status at last follow-up</text>
<line x1="408.7" y1="181.3" x2="415.7" y2="181.3" stroke="#444444" stroke-width="1.2"/>
<path d="M419.7,181.3 L414.7,179.3 L414.7,183.3 Z" fill="#222"/>
<text x="423.5" y="183.6" class="li" textLength="16.6" lengthAdjust="spacingAndGlyphs">Alive</text>
<path d="M411.1,197.7H417.7M414.4,194.4V201" stroke="#222" stroke-width="1.1" fill="none"/>
<text x="421.7" y="200.1" class="li" textLength="20.4" lengthAdjust="spacingAndGlyphs">Death</text>
<text x="406.6" y="235.6" class="lt">CAR T-cell transgene copies</text>
<text x="406.6" y="246.1" class="lt">/µg genomic DNA</text>
<rect x="407.9" y="258.3" width="13.2" height="6.5" fill="#c8102e"/>
<text x="424.3" y="264.2" class="li" textLength="23.8" lengthAdjust="spacingAndGlyphs">≥10^5</text>
<rect x="407.9" y="274.8" width="13.2" height="6.5" fill="#de5f58"/>
<text x="424.3" y="280.7" class="li" textLength="45.5" lengthAdjust="spacingAndGlyphs">10^4 - 10^5</text>
<rect x="407.9" y="291.3" width="13.2" height="6.5" fill="#f28b00"/>
<text x="424.3" y="297.2" class="li" textLength="45.5" lengthAdjust="spacingAndGlyphs">10^3 - 10^4</text>
<rect x="407.9" y="307.8" width="13.2" height="6.5" fill="#f5ab5e"/>
<text x="424.3" y="313.7" class="li" textLength="45.5" lengthAdjust="spacingAndGlyphs">10^2 - 10^3</text>
<rect x="407.9" y="324.3" width="13.2" height="6.5" fill="#f9bc0f"/>
<text x="424.3" y="330.2" class="li" textLength="45.5" lengthAdjust="spacingAndGlyphs">10^1 - 10^2</text>
<rect x="407.9" y="340.8" width="13.2" height="6.5" fill="#c7c7ca"/>
<text x="424.3" y="346.7" class="li" textLength="14" lengthAdjust="spacingAndGlyphs">≤10</text>
<path d="M411,379.5H417.4M414.2,376.3V382.7M411.94,377.24L416.46,381.76M411.94,381.76L416.46,377.24" stroke="#111" stroke-width="0.8" fill="none"/>
<text x="421.3" y="382.1" class="li" textLength="69.3" lengthAdjust="spacingAndGlyphs">Progression/relapse</text>
<path d="M414.5,390.6L417.8,393.9L414.5,397.2L411.2,393.9Z" stroke="#222" stroke-width="1.0" fill="#fff"/>
<text x="421.3" y="396.3" class="li" textLength="92" lengthAdjust="spacingAndGlyphs">Second JCAR014 infusion</text>
<text x="406.8" y="427.4" class="lt">B-cell reconstitution</text>
<rect x="408" y="438.8" width="12.8" height="6.3" fill="#35ae2a"/>
<text x="424.6" y="444.7" class="li" textLength="50.6" lengthAdjust="spacingAndGlyphs">B-cell recovery</text>
<rect x="408" y="455.3" width="12.8" height="6.3" fill="#0a6e51"/>
<text x="424.6" y="460.9" class="li" textLength="45.8" lengthAdjust="spacingAndGlyphs">B-cell aplasia</text>
</svg>
</body></html>
